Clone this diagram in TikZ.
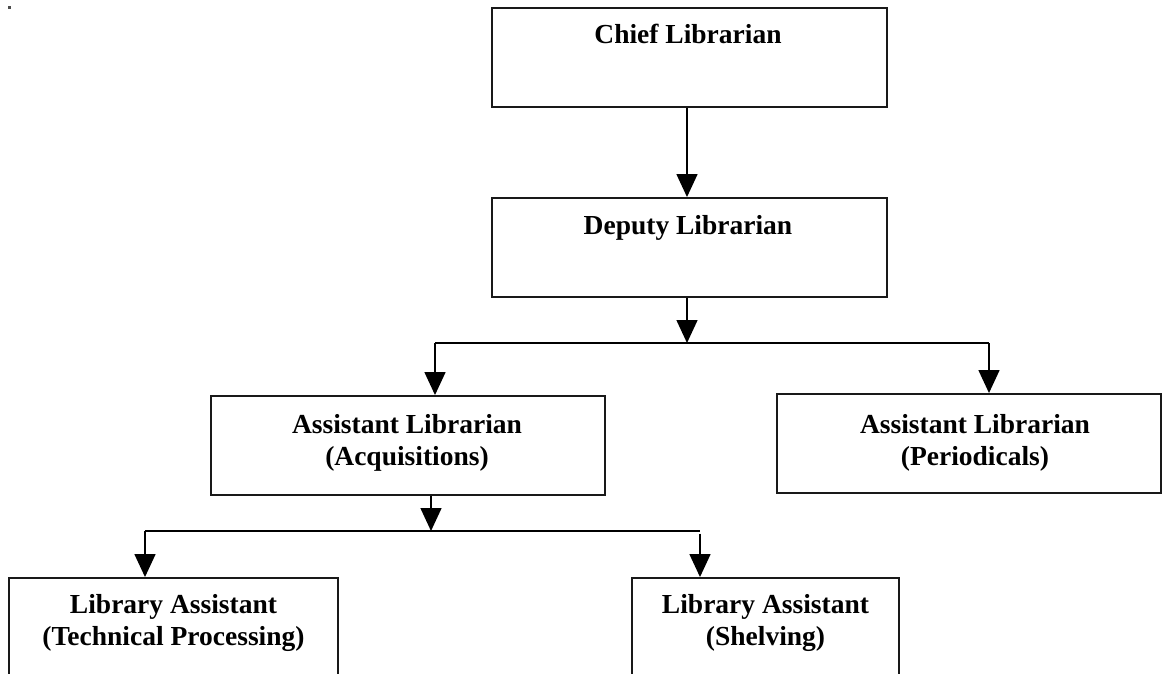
\documentclass[tikz,border=0pt]{standalone}
\usepackage{fontspec}
\setmainfont{Liberation Serif}
\usetikzlibrary{arrows.meta}

\tikzset{
  box/.style={draw=black!90, line width=1.9pt, rectangle, inner sep=0pt},
  lbl/.style={inner sep=0pt, align=center, text=black,
    font=\fontsize{27.5}{31.5}\selectfont\bfseries},
  conn/.style={draw=black, line width=1.5pt},
  arr/.style={conn, -{Triangle[width=21pt,length=23pt]}},
}

\begin{document}
\begin{tikzpicture}[x=1pt, y=-1pt]
  \useasboundingbox (0,0) rectangle (1163,674);
  \clip (0,0) rectangle (1163,674);

  % small mark in the corner
  \fill[black!70] (7.5,6.5) rectangle (10.5,9.5);

  % boxes
  \node[box, minimum width=395pt, minimum height=99pt] (chief)  at (689.5,57.5) {};
  \node[box, minimum width=395pt, minimum height=99pt] (deputy) at (689.5,247.5) {};
  \node[box, minimum width=394pt, minimum height=99pt] (acq)    at (408,445.5) {};
  \node[box, minimum width=384pt, minimum height=99pt] (per)    at (969,443.5) {};
  \node[box, minimum width=329pt, minimum height=140pt] (tech)  at (173.5,648) {};
  \node[box, minimum width=267pt, minimum height=140pt] (shelf) at (765.5,648) {};

  % labels
  \node[lbl, anchor=base]  (chiefT)  at (688,44)    {Chief Librarian};
  \node[lbl, anchor=base]  (deputyT) at (688,234)   {Deputy Librarian};
  \node[lbl, anchor=north] (acqT)    at (407,414.5) {Assistant Librarian\\(Acquisitions)};
  \node[lbl, anchor=north] (perT)    at (975,414.5) {Assistant Librarian\\(Periodicals)};
  \node[lbl, anchor=north] (techT)   at (173.5,594.5) {Library Assistant\\(Technical Processing)};
  \node[lbl, anchor=north] (shelfT)  at (765.5,594.5) {Library Assistant\\(Shelving)};

  % junction points
  \coordinate (j1)  at (687,343);
  \coordinate (j1L) at (435,343);
  \coordinate (j1R) at (989,343);
  \coordinate (j2)  at (431,531);
  \coordinate (j2L) at (145,531);
  \coordinate (j2R) at (700,531);
  \coordinate (j2Rs) at (700,533.5);

  % connectors
  \draw[arr] (chief.south -| j1) -- (deputy.north -| j1);
  \draw[arr] (deputy.south -| j1) -- (j1);
  \draw[conn] (j1L) -- (j1R);
  \draw[arr] (j1L) -- (acq.north -| j1L);
  \draw[arr] (j1R) -- (per.north -| j1R);

  \draw[arr] (acq.south -| j2) -- (j2);
  \draw[conn] (j2L) -- (j2R);
  \draw[arr] (j2L) -- (tech.north -| j2L);
  \draw[arr] (j2Rs) -- (shelf.north -| j2Rs);
\end{tikzpicture}
\end{document}
